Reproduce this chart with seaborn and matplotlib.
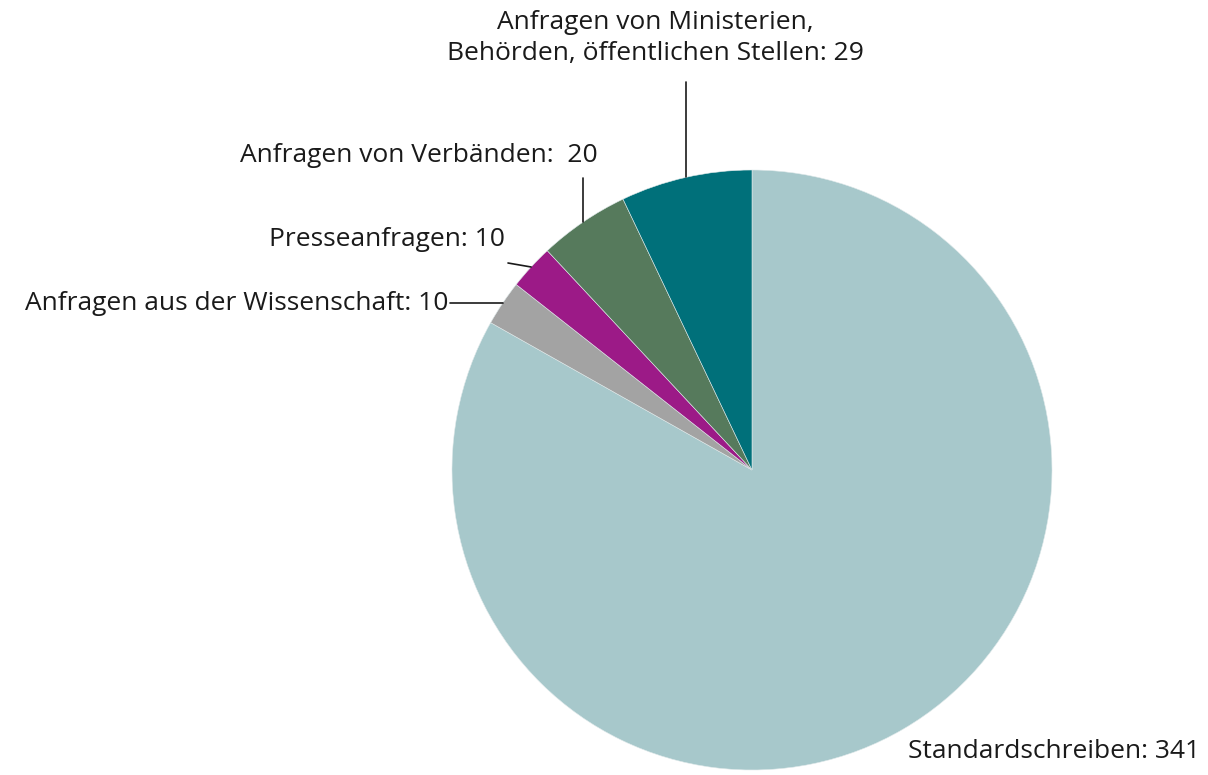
import numpy as np
import matplotlib
matplotlib.use("Agg")
import matplotlib.pyplot as plt
import seaborn as sns

categories = ["Standardschreiben", "Anfragen aus der Wissenschaft", "Presseanfragen",
              "Anfragen von Verbänden", "Anfragen von Ministerien,\nBehörden, öffentlichen Stellen"]
values = [341, 10, 10, 20, 29]
label_texts = ["Standardschreiben: 341", "Anfragen aus der Wissenschaft: 10", "Presseanfragen: 10",
               "Anfragen von Verbänden:  20", "Anfragen von Ministerien,\nBehörden, öffentlichen Stellen: 29"]
colors = ["#a7c8cb", "#a3a3a3", "#9c1a87", "#567a5c", "#00707a"]

sns.set_theme(style="white")
plt.rcParams['font.family'] = ['Open Sans', 'DejaVu Sans']

W, H = 1208, 775
fig = plt.figure(figsize=(W / 100, H / 100), dpi=100)
ax = fig.add_axes([0, 0, 1, 1])

cx, cy, R = 752, H - 470, 300
wedges, _ = ax.pie(values, colors=colors, startangle=90, counterclock=False,
                   center=(cx, cy), radius=R, frame=True,
                   wedgeprops=dict(edgecolor="#dfe9ea", linewidth=0.4))
ax.set_xlim(0, W)
ax.set_ylim(0, H)
ax.set_aspect("equal")
ax.axis("off")

fs = 19
layout = {
    1: dict(end=(450, 303), text=(448, 303), ha="right", va="center", kind="h"),
    2: dict(end=(508, 263), text=(505, 240), ha="right", va="center", kind="p"),
    3: dict(top=178, text=(598, 155), ha="right", va="center", kind="v"),
    4: dict(top=82, text=(655, 38), ha="center", va="center", kind="v"),
}

for i, w in enumerate(wedges):
    if i == 0:
        ax.text(1200, H - 752, label_texts[0], ha="right", va="center", fontsize=fs, color="#1a1a1a")
        continue
    lay = layout[i]
    ang = np.deg2rad((w.theta1 + w.theta2) / 2)
    ex, ey = cx + R * np.cos(ang), cy + R * np.sin(ang)
    if lay["kind"] == "v":
        ax.plot([ex, ex], [ey, H - lay["top"]], color="#1a1a1a", lw=1.2)
    elif lay["kind"] == "h":
        ax.plot([ex, lay["end"][0]], [ey, ey], color="#1a1a1a", lw=1.2)
    else:
        ax.plot([ex, lay["end"][0]], [ey, H - lay["end"][1]], color="#1a1a1a", lw=1.2)
    tx, ty = lay["text"]
    ax.text(tx, H - ty, label_texts[i], ha=lay["ha"], va=lay["va"], fontsize=fs,
            color="#1a1a1a", linespacing=1.35, multialignment="center")

fig.savefig("out.png", dpi=100, facecolor="white")
